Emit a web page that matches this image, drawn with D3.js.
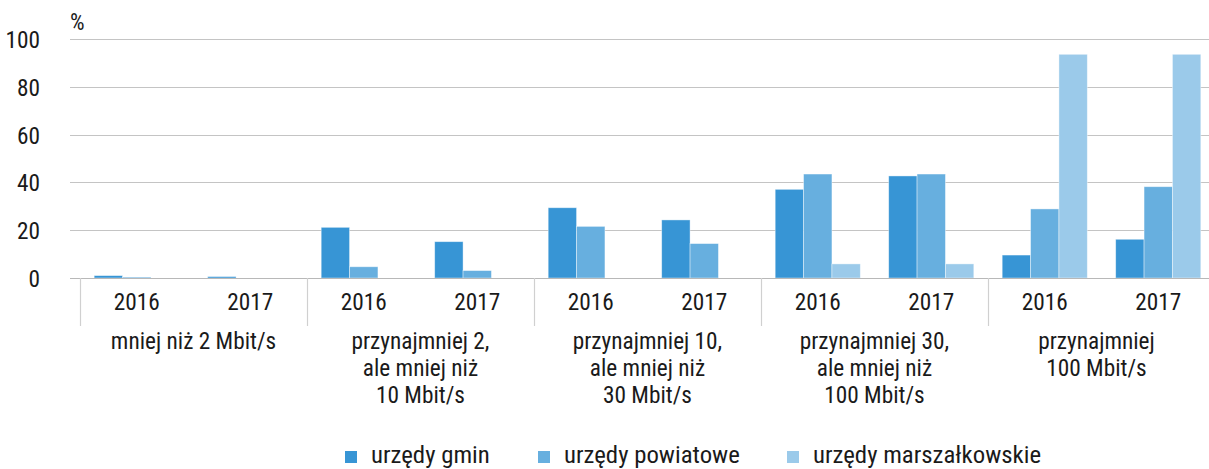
<!DOCTYPE html>
<html><head><meta charset="utf-8">
<script src="https://cdn.jsdelivr.net/npm/d3@7"></script>
<style>
html,body{margin:0;padding:0;background:#fff;}
svg text{font-family:"Roboto Condensed","DejaVu Sans Condensed",sans-serif;fill:#1a1a1a;}
</style></head>
<body>
<svg id="chart" width="1209" height="469"></svg>
<script>
const groups = [
  ["mniej niż 2 Mbit/s"],
  ["przynajmniej 2,", "ale mniej niż", "10 Mbit/s"],
  ["przynajmniej 10,", "ale mniej niż", "30 Mbit/s"],
  ["przynajmniej 30,", "ale mniej niż", "100 Mbit/s"],
  ["przynajmniej", "100 Mbit/s"]
];
const years = ["2016", "2017"];
const seriesNames = ["urzędy gmin", "urzędy powiatowe", "urzędy marszałkowskie"];
// values per group, per year: [2016, 2017]
const gmin       = [[1.0, 0.6], [21.2, 15.2], [29.4, 24.3], [37.1, 42.7], [9.6, 16.2]];
const powiatowe  = [[0.4, 0.0], [4.7, 3.1], [21.6, 14.4], [43.5, 43.5], [28.9, 38.2]];
const marszalk   = [[0.0, 0.0], [0.0, 0.0], [0.0, 0.0], [5.9, 5.9], [93.6, 93.6]];
const yTicks = [0, 20, 40, 60, 80, 100];
const colors = ["#3795d5", "#67afdf", "#9bcaea"];

const seriesData = [gmin, powiatowe, marszalk];
const svg = d3.select("#chart");
const fs = 23.3;

const x0 = d3.scaleBand().domain(d3.range(groups.length)).range([80, 1215]).padding(0);
const x1 = d3.scaleBand().domain(years).range([0, x0.bandwidth()]).padding(0);
const x2 = d3.scaleBand().domain(d3.range(3)).range([x1.bandwidth()*0.125, x1.bandwidth()*0.875]).padding(0);
const y = d3.scaleLinear().domain([0, 100]).range([278, 39]);

// gridlines
svg.append("g").selectAll("line").data(yTicks).join("line")
  .attr("x1", 70).attr("x2", 1209)
  .attr("y1", d => Math.round(y(d)) + 0.5).attr("y2", d => Math.round(y(d)) + 0.5)
  .attr("stroke", "#c4c4c4").attr("stroke-width", 1.2);

// y tick labels
svg.append("g").selectAll("text").data(yTicks).join("text")
  .attr("x", 40).attr("y", d => y(d) + 9)
  .attr("text-anchor", "end").attr("font-size", fs).text(d => d);

svg.append("text").attr("x", 70).attr("y", 30).attr("font-size", 23).text("%");

// bars
const flat = [];
groups.forEach((g, gi) => years.forEach((yr, yi) => seriesData.forEach((s, si) => {
  flat.push({gi, yr, si, v: s[gi][yi]});
})));
svg.append("g").selectAll("rect").data(flat.filter(d => d.v > 0)).join("rect")
  .attr("x", d => x0(d.gi) + x1(d.yr) + x2(d.si))
  .attr("width", x2.bandwidth())
  .attr("y", d => y(d.v))
  .attr("height", d => y(0) - y(d.v))
  .attr("fill", d => colors[d.si])
  .attr("stroke", "#ffffff").attr("stroke-opacity", 0.5).attr("stroke-width", 0.8);

// baseline
svg.append("line").attr("x1", 70).attr("x2", 1209).attr("y1", 278.5).attr("y2", 278.5)
  .attr("stroke", "#b8b8b8").attr("stroke-width", 1.2);

// group separators
svg.append("g").selectAll("line").data(d3.range(groups.length + 1)).join("line")
  .attr("x1", d => Math.round(80 + d * x0.bandwidth()) + 0.5)
  .attr("x2", d => Math.round(80 + d * x0.bandwidth()) + 0.5)
  .attr("y1", 278).attr("y2", 326)
  .attr("stroke", "#d0d0d0").attr("stroke-width", 1.2);

// year labels
const yl = [];
groups.forEach((g, gi) => years.forEach(yr => yl.push({gi, yr})));
svg.append("g").selectAll("text").data(yl).join("text")
  .attr("x", d => x0(d.gi) + x1(d.yr) + x1.bandwidth() / 2)
  .attr("y", 310).attr("text-anchor", "middle").attr("font-size", fs).text(d => d.yr);

// group labels
const gl = svg.append("g").selectAll("text").data(groups).join("text")
  .attr("text-anchor", "middle").attr("font-size", fs);
gl.each(function(lines, i) {
  const t = d3.select(this);
  const cx = x0(i) + x0.bandwidth() / 2 - (i === groups.length - 1 ? 5 : 0);
  lines.forEach((ln, li) => {
    t.append("tspan").attr("x", cx).attr("y", 349 + li * 27).text(ln);
  });
});

// legend
const legX = [345, 538, 787];
const leg = svg.append("g").selectAll("g").data(seriesNames).join("g")
  .attr("transform", (d, i) => `translate(${legX[i]},0)`);
leg.append("rect").attr("x", 0).attr("y", 451).attr("width", 12).attr("height", 12)
  .attr("fill", (d, i) => colors[i]);
leg.append("text").attr("x", 26).attr("y", 463).attr("font-size", 24.8).text(d => d);
</script>
</body></html>
